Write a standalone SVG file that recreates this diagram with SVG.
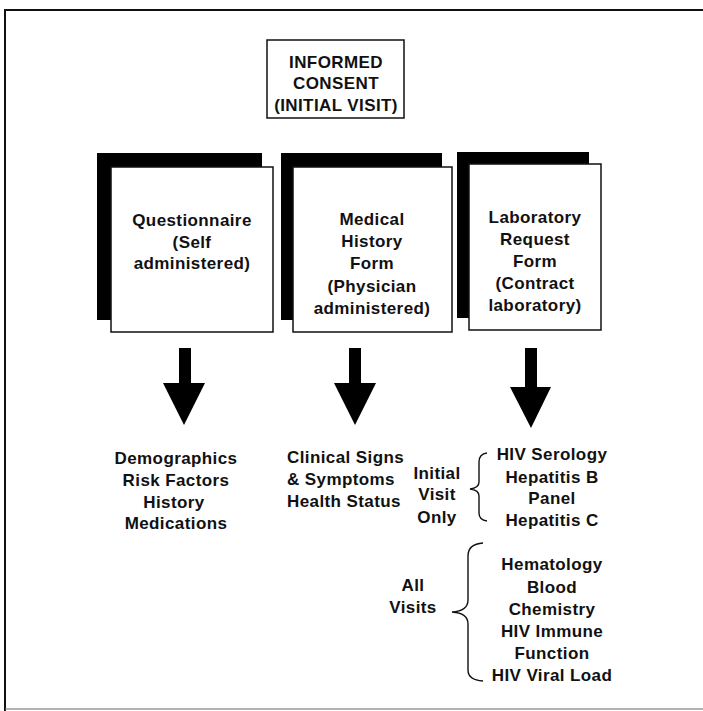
<svg xmlns="http://www.w3.org/2000/svg" width="703" height="711" viewBox="0 0 703 711">
<defs>
<style>
text{font-family:"Liberation Sans",Arial,Helvetica,sans-serif;font-weight:bold;font-size:17px;letter-spacing:0.4px;fill:#111;text-anchor:middle}
.box{fill:#fff;stroke:#111;stroke-width:1.5}
.shadow{fill:#000}
.arrow{fill:#000}
.brace{fill:none;stroke:#111;stroke-width:1.4}
.frame{stroke:#111;fill:none}
</style>
</defs>
<rect width="703" height="711" fill="#fff"/>
<g id="frame">
<line class="frame" x1="5" y1="10" x2="703" y2="10" stroke-width="2.2"/>
<line class="frame" x1="5" y1="9" x2="5" y2="711" stroke-width="2"/>
<line x1="5" y1="709" x2="703" y2="709" stroke="#666" stroke-width="1.2"/>
</g>
<g id="consent">
<rect class="box" x="267" y="40" width="137" height="78"/>
<text x="336" y="68">INFORMED</text>
<text x="336" y="89">CONSENT</text>
<text x="336" y="111">(INITIAL VISIT)</text>
</g>
<g id="questionnaire">
<rect class="shadow" x="97" y="153" width="165" height="167"/>
<rect class="box" x="111" y="167" width="162" height="165"/>
<text x="192" y="226">Questionnaire</text>
<text x="192" y="248">(Self</text>
<text x="192" y="269">administered)</text>
</g>
<g id="medical">
<rect class="shadow" x="281" y="153" width="161" height="167"/>
<rect class="box" x="293" y="167" width="159" height="165"/>
<text x="372" y="225">Medical</text>
<text x="372" y="247">History</text>
<text x="372" y="269">Form</text>
<text x="372" y="292">(Physician</text>
<text x="372" y="314">administered)</text>
</g>
<g id="lab">
<rect class="shadow" x="457" y="152" width="132" height="166"/>
<rect class="box" x="469" y="164" width="132" height="166"/>
<text x="535" y="223">Laboratory</text>
<text x="535" y="245">Request</text>
<text x="535" y="267">Form</text>
<text x="535" y="289">(Contract</text>
<text x="535" y="311">laboratory)</text>
</g>
<g id="connectors">
<polygon class="arrow" points="179,348 191,348 191,383 205,383 184,425 163,383 179,383"/>
<polygon class="arrow" points="349,348 361,348 361,383 376,383 355,425 334,383 349,383"/>
<polygon class="arrow" points="525,348 537,348 537,387 551,387 531,428 510,387 525,387"/>
<path class="brace" d="M487,453 Q479,454 479,462 L479,482 Q479,488 470,489 Q479,490 479,496 L479,513 Q479,520 487,521"/>
<path class="brace" d="M483,543 Q468,544 468,556 L468,600 Q468,611 452,612 Q468,613 468,624 L468,670 Q468,680 483,681"/>
</g>
<g id="questionnaire-data">
<text x="176" y="464">Demographics</text>
<text x="176" y="486">Risk Factors</text>
<text x="174" y="508">History</text>
<text x="176" y="529">Medications</text>
</g>
<g id="medical-data">
<text x="287" y="463" style="text-anchor:start">Clinical Signs</text>
<text x="287" y="485" style="text-anchor:start">&amp; Symptoms</text>
<text x="287" y="507" style="text-anchor:start">Health Status</text>
</g>
<g id="initial-visit">
<text x="437" y="479">Initial</text>
<text x="437" y="500">Visit</text>
<text x="437" y="523">Only</text>
<text x="552" y="460">HIV Serology</text>
<text x="552" y="483">Hepatitis B</text>
<text x="552" y="504">Panel</text>
<text x="552" y="526">Hepatitis C</text>
</g>
<g id="all-visits">
<text x="413" y="591">All</text>
<text x="413" y="613">Visits</text>
<text x="552" y="570">Hematology</text>
<text x="552" y="593">Blood</text>
<text x="552" y="615">Chemistry</text>
<text x="552" y="637">HIV Immune</text>
<text x="552" y="659">Function</text>
<text x="552" y="681">HIV Viral Load</text>
</g>
</svg>
